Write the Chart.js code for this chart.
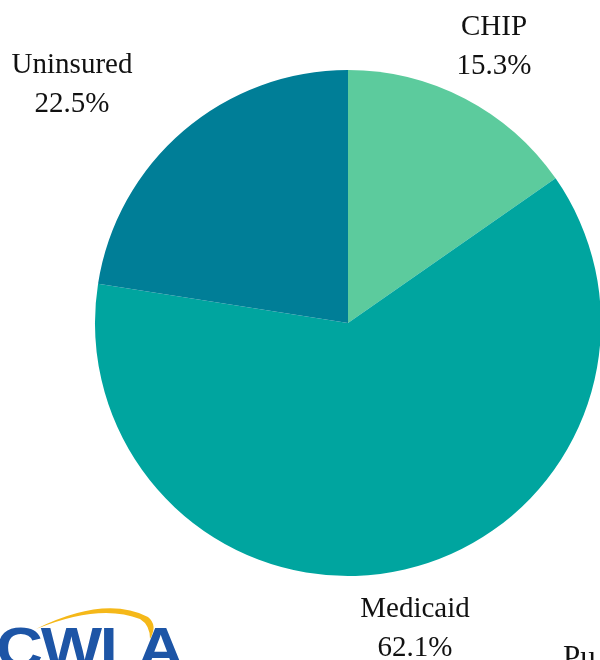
<!DOCTYPE html>
<html>
<head>
<meta charset="utf-8">
<script src="https://cdn.jsdelivr.net/npm/chart.js@4"></script>
<style>
    html, body { margin: 0; padding: 0; background: #fff; overflow: hidden; }
    body { width: 600px; height: 660px; position: relative; }
    #wrap { position: absolute; left: 0; top: 0; width: 620px; height: 660px; }
    #logo { position: absolute; left: -4px; top: 614px; font: bold 58px "Liberation Sans", Arial, sans-serif; color: #1d55a6; letter-spacing: -2px; transform: scaleX(1.12); transform-origin: left top; }
    #swoosh { position: absolute; left: 0; top: 595px; }
    #pub { position: absolute; left: 563px; top: 639px; font: 31px "Liberation Serif", serif; color: #111; }
</style>
</head>
<body>
<div id="wrap"><canvas id="pieChart"></canvas></div>
<svg id="swoosh" width="200" height="60">
    <path d="M36 34 Q105 0 148 22 Q158 30 150 44 Q150 30 140 24 Q100 8 36 34 Z" fill="#f5b819"/>
</svg>
<div id="logo">CWLA</div>
<div id="pub">Pu</div>
<script>
const categories = ['CHIP', 'Medicaid', 'Uninsured'];
const shares = [15.3, 62.1, 22.5];
const sliceColors = ['#5ccb9d', '#00a59f', '#007e97'];

// where each label sits, relative to the pie centre (px)
const labelOffsets = [
    { dx: 146, dy: -288 },  // CHIP
    { dx: 67, dy: 294 },    // Medicaid
    { dx: -276, dy: -250 }, // Uninsured
];

const outsideLabels = {
    id: 'outsideLabels',
    afterDraw(chart) {
        const ctx = chart.ctx;
        const meta = chart.getDatasetMeta(0);
        ctx.save();
        ctx.fillStyle = '#111';
        ctx.font = '29px "Liberation Serif", "DejaVu Serif", serif';
        ctx.textAlign = 'center';
        ctx.textBaseline = 'alphabetic';
        meta.data.forEach((arc, i) => {
            const x = arc.x + labelOffsets[i].dx;
            const y = arc.y + labelOffsets[i].dy;
            ctx.fillText(categories[i], x, y);
            ctx.fillText(shares[i].toFixed(1) + '%', x, y + 39);
        });
        ctx.restore();
    }
};

const ctx = document.getElementById('pieChart').getContext('2d');
new Chart(ctx, {
    type: 'pie',
    data: {
        labels: categories,
        datasets: [{
            data: shares,
            backgroundColor: sliceColors,
            borderWidth: 0,
        }]
    },
    options: {
        responsive: true,
        maintainAspectRatio: false,
        animation: false,
        layout: { padding: { left: 95, right: 19, top: 70, bottom: 84 } },
        plugins: {
            legend: { display: false },
            tooltip: { enabled: false },
            title: { display: false }
        }
    },
    plugins: [outsideLabels]
});
</script>
</body>
</html>
